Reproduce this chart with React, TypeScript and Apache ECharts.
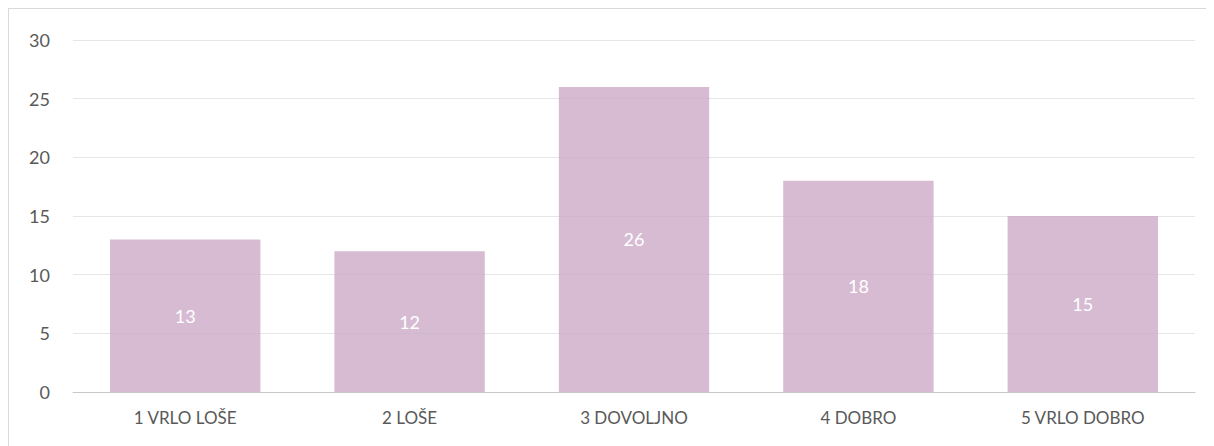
import React, { useEffect, useRef } from "react";
import * as echarts from "echarts";

const categories = ["1 VRLO LOŠE", "2 LOŠE", "3 DOVOLJNO", "4 DOBRO", "5 VRLO DOBRO"];
const values = [13, 12, 26, 18, 15];
const yTicks = { min: 0, max: 30, interval: 5 };

export default function App() {
  const ref = useRef<HTMLDivElement>(null);
  useEffect(() => {
    if (!ref.current) return;
    const chart = echarts.init(ref.current, undefined, { renderer: "svg" });
    chart.setOption({
      animation: false,
      textStyle: { fontFamily: "Lato, 'Open Sans', sans-serif" },
      grid: { left: 64, right: 19, top: 31, bottom: 54 },
      xAxis: {
        type: "category",
        data: categories,
        axisLine: { lineStyle: { color: "#c8c8c8", width: 1 } },
        axisTick: { show: false },
        axisLabel: { color: "#595959", fontSize: 17, margin: 17, fontFamily: "Lato" },
      },
      yAxis: {
        type: "value",
        min: yTicks.min,
        max: yTicks.max,
        interval: yTicks.interval,
        axisLine: { show: false },
        axisTick: { show: false },
        splitLine: { lineStyle: { color: "#e6e6e6", width: 1 } },
        axisLabel: { color: "#595959", fontSize: 18, margin: 23, fontFamily: "Lato" },
      },
      series: [
        {
          type: "bar",
          data: values,
          barWidth: "67%",
          itemStyle: { color: "rgba(204,170,200,0.8)" },
          label: {
            show: true,
            position: "inside",
            color: "#ffffff",
            fontSize: 18,
            fontFamily: "Lato",
          },
        },
      ],
    });
    return () => chart.dispose();
  }, []);
  return (
    <div
      style={{
        width: 1206,
        height: 438,
        boxSizing: "border-box",
        borderTop: "1px solid #d9d9d9",
        borderLeft: "1px solid #d9d9d9",
        background: "#fff",
      }}
    >
      <div ref={ref} style={{ width: 1205, height: 437 }} />
    </div>
  );
}
